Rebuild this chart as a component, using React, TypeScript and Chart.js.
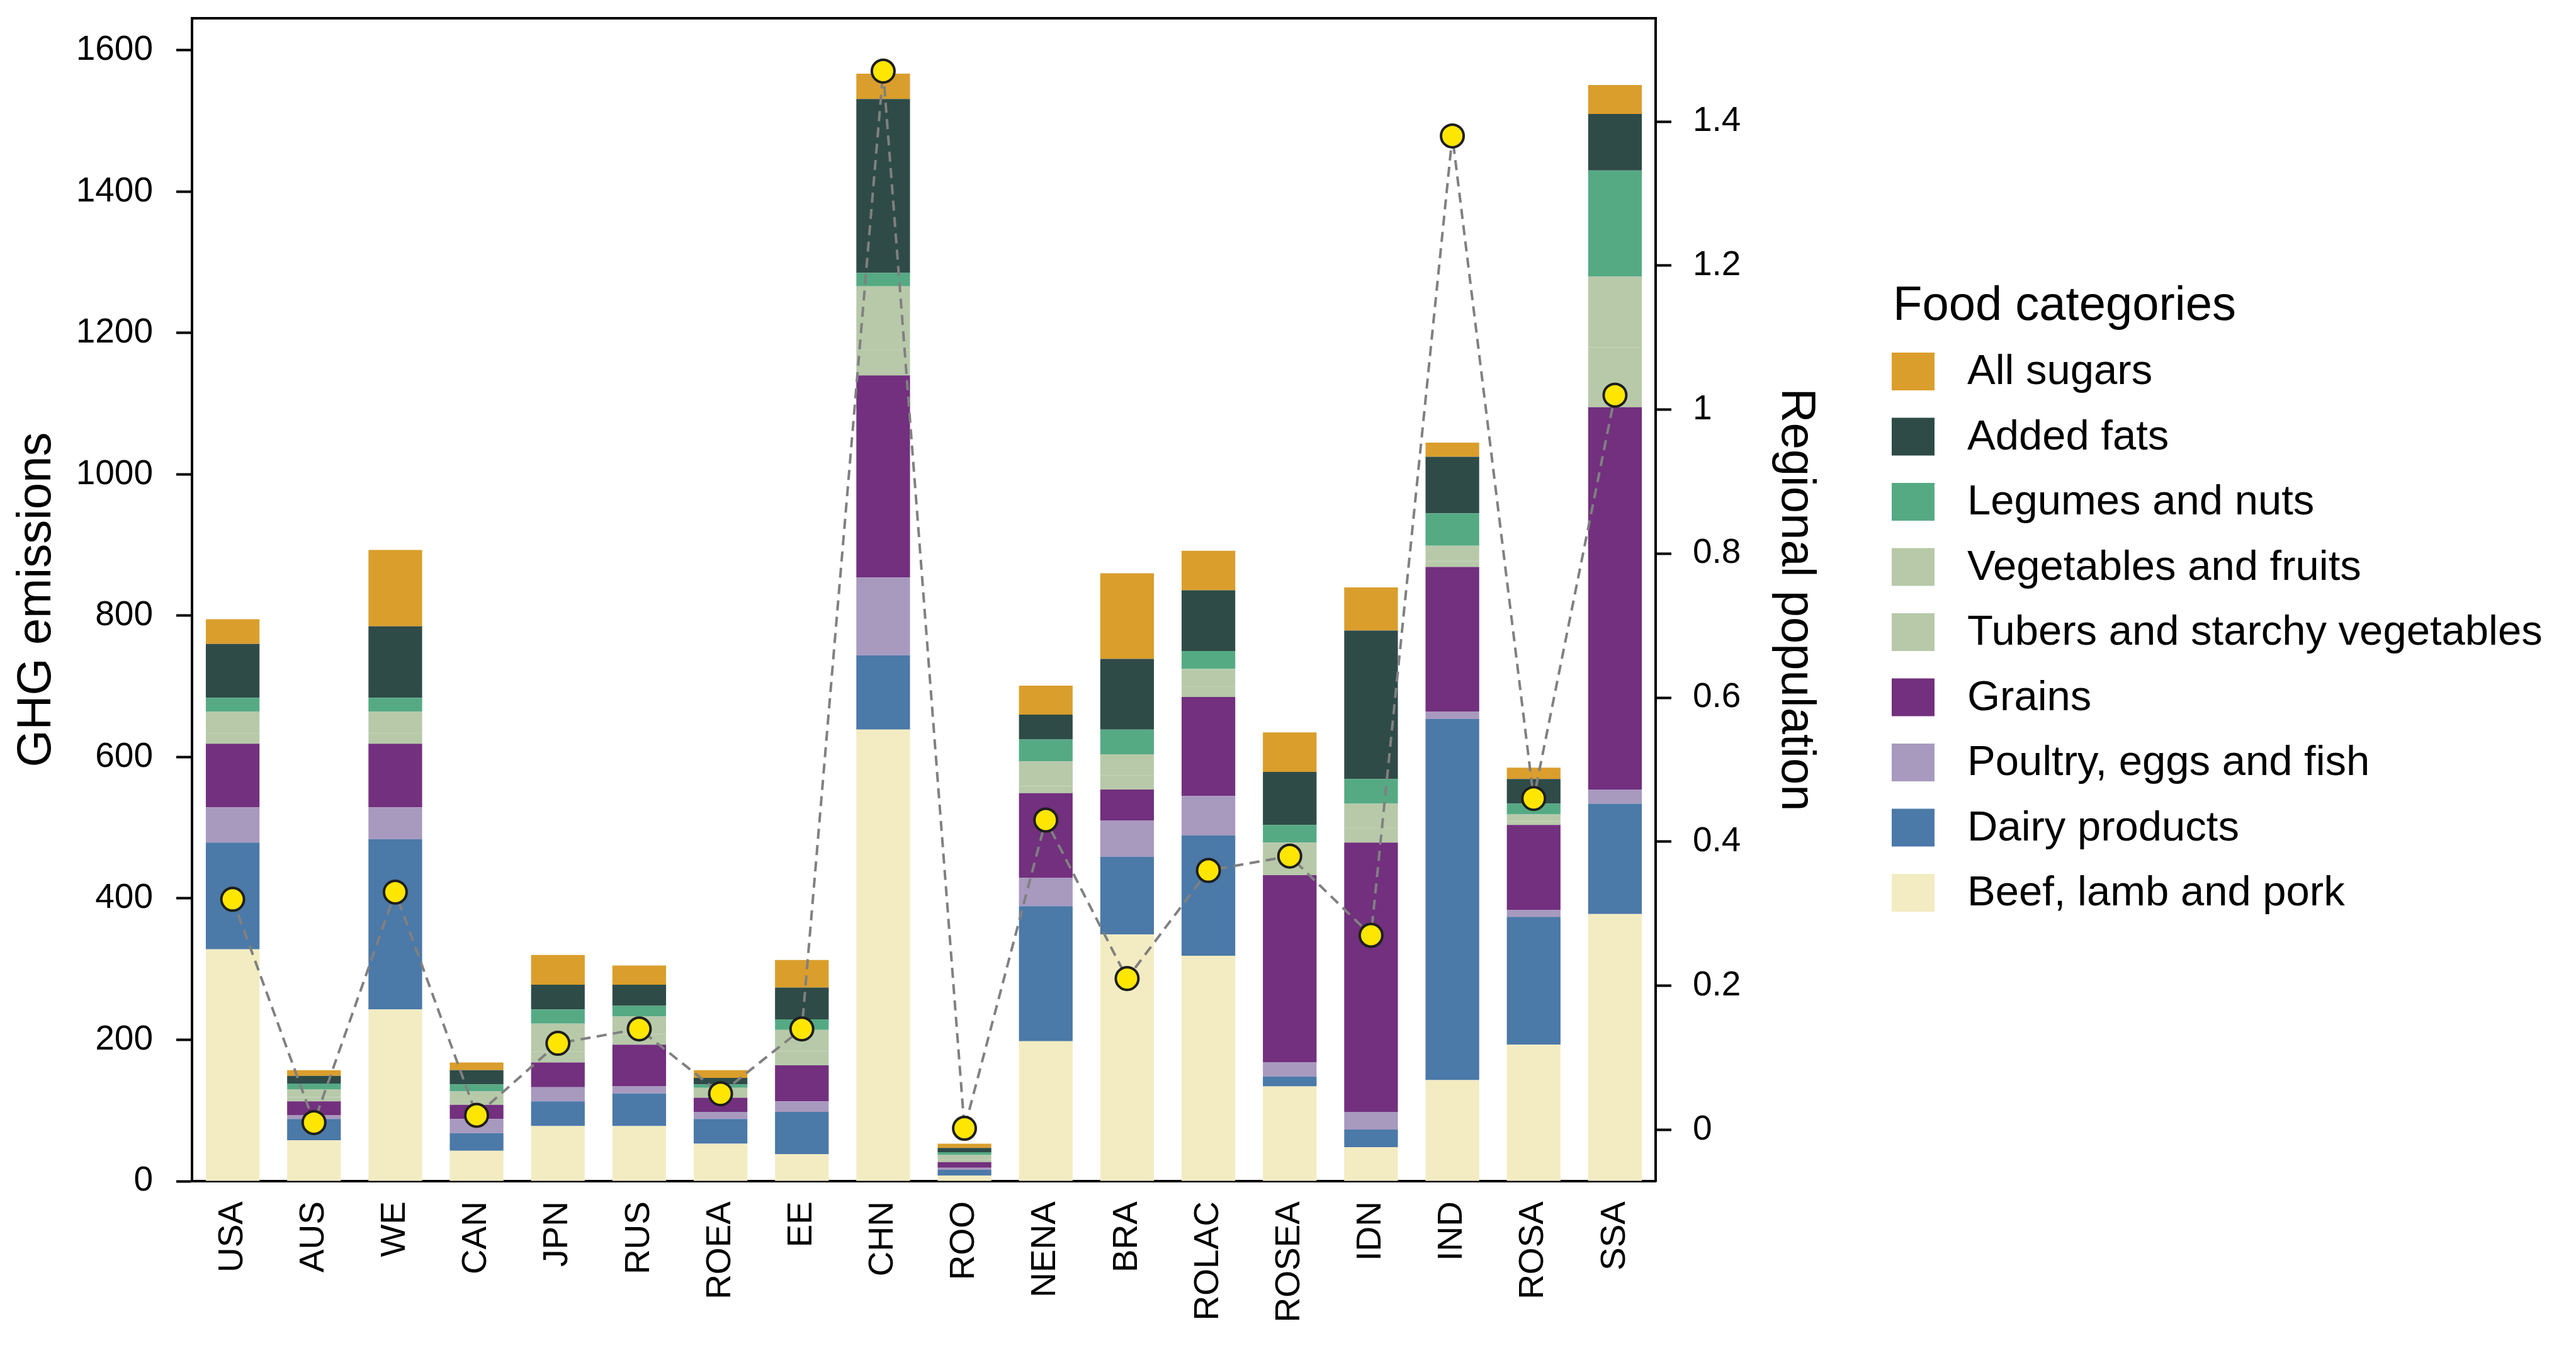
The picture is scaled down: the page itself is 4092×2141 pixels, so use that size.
import React, { useEffect, useRef } from "react";
import { Chart, registerables } from "chart.js";

Chart.register(...registerables);

const FONT = "'Liberation Sans', Arial, Helvetica, sans-serif";

const regions = ["USA", "AUS", "WE", "CAN", "JPN", "RUS", "ROEA", "EE", "CHN", "ROO", "NENA", "BRA", "ROLAC", "ROSEA", "IDN", "IND", "ROSA", "SSA"];

// GHG emissions by food category (stack order bottom -> top)
const beef = [328, 58, 243, 43, 78, 78, 53, 38, 639, 8, 198, 349, 319, 134, 48, 143, 193, 378];
const dairy = [151, 30, 241, 25, 35, 46, 35, 60, 105, 8, 191, 110, 170, 14, 25, 511, 181, 156];
const poultry = [50, 5, 45, 20, 20, 10, 10, 15, 110, 3, 40, 51, 56, 20, 25, 10, 10, 20];
const grains = [90, 20, 90, 20, 35, 59, 20, 51, 286, 8, 120, 44, 140, 265, 381, 205, 120, 541];
const tubers = [15, 6, 15, 7, 15, 15, 5, 20, 36, 4, 10, 20, 15, 16, 20, 8, 5, 85];
const vegetables = [30, 11, 30, 12, 40, 25, 9, 30, 90, 6, 35, 30, 25, 30, 35, 22, 10, 100];
const legumes = [20, 8, 20, 10, 20, 15, 5, 15, 19, 4, 31, 35, 25, 25, 35, 46, 15, 150];
const fats = [76, 11, 101, 20, 35, 30, 9, 45, 246, 6, 35, 100, 86, 75, 210, 80, 35, 80];
const sugars = [35, 8, 108, 11, 42, 27, 11, 39, 36, 6, 41, 121, 56, 56, 61, 20, 16, 41];

// Regional population (right axis)
const population = [0.32, 0.01, 0.33, 0.02, 0.12, 0.14, 0.05, 0.14, 1.47, 0.002, 0.43, 0.21, 0.36, 0.38, 0.27, 1.38, 0.46, 1.02];

const leftTicks = [0, 200, 400, 600, 800, 1000, 1200, 1400, 1600];
const rightTicks = [0, 0.2, 0.4, 0.6, 0.8, 1, 1.2, 1.4];

const categoryLabels = [
  "Beef, lamb and pork",
  "Dairy products",
  "Poultry, eggs and fish",
  "Grains",
  "Tubers and starchy vegetables",
  "Vegetables and fruits",
  "Legumes and nuts",
  "Added fats",
  "All sugars",
];
const categoryColors = ["#F3ECC2", "#4B79A8", "#A899BF", "#72307E", "#B7C9A9", "#B7C9A9", "#55AA84", "#2F4B48", "#DA9E2C"];
const categoryData = [beef, dairy, poultry, grains, tubers, vegetables, legumes, fats, sugars];

const W = 4092;
const H = 2141;

const customLegend = {
  id: "customLegend",
  afterDraw(chart: any) {
    const ctx = chart.ctx;
    const { left, right, top } = chart.chartArea;
    ctx.save();
    // top spine
    ctx.strokeStyle = "#000";
    ctx.lineWidth = 4;
    ctx.beginPath();
    ctx.moveTo(left - 2, top);
    ctx.lineTo(right + 2, top);
    ctx.stroke();

    const x0 = right + 375;
    ctx.fillStyle = "#000";
    ctx.textAlign = "left";
    ctx.textBaseline = "alphabetic";
    ctx.font = `76px ${FONT}`;
    ctx.fillText("Food categories", x0 + 2, 508);
    const items = categoryLabels.map((l, i) => ({ label: l, color: categoryColors[i] })).reverse();
    items.forEach((it, i) => {
      const y = 560 + i * 103.5;
      ctx.fillStyle = it.color;
      ctx.fillRect(x0, y, 68, 60);
      ctx.fillStyle = "#000";
      ctx.font = `67px ${FONT}`;
      ctx.textBaseline = "middle";
      ctx.fillText(it.label, x0 + 120, y + 32);
    });
    ctx.restore();
  },
};

export default function App() {
  const ref = useRef<HTMLCanvasElement>(null);

  useEffect(() => {
    document.body.style.margin = "0";
    document.body.style.overflow = "hidden";
    const canvas = ref.current!;
    const total = regions.map((_, i) => categoryData.reduce((s, arr) => s + arr[i], 0));
    const yMax = Math.max(...total) * 1.05;
    const pMin = Math.min(...population);
    const pMax = Math.max(...population);
    const pm = (pMax - pMin) * 0.05;

    const datasets: any[] = [
      {
        type: "line",
        label: "Regional population",
        data: population,
        yAxisID: "y1",
        borderColor: "#808080",
        borderWidth: 4,
        borderDash: [16, 10],
        pointRadius: 18,
        pointHoverRadius: 18,
        pointBackgroundColor: "#FFE600",
        pointBorderColor: "#1E1E1E",
        pointBorderWidth: 4,
        tension: 0,
        fill: false,
        order: 0,
      },
      ...categoryData.map((d, i) => ({
        type: "bar",
        label: categoryLabels[i],
        data: d,
        backgroundColor: categoryColors[i],
        borderWidth: 0,
        yAxisID: "y",
        stack: "s",
        barPercentage: 0.66,
        categoryPercentage: 1,
        order: 1,
      })),
    ];

    const tickFont = { family: FONT, size: 55 };
    const titleFont = { family: FONT, size: 76, lineHeight: 1 };

    const chart = new Chart(canvas, {
      type: "bar",
      data: { labels: regions, datasets },
      plugins: [customLegend],
      options: {
        responsive: false,
        animation: false,
        devicePixelRatio: 1,
        layout: { padding: { left: 0, top: 29, right: W - 2900, bottom: 0 } },
        plugins: {
          legend: { display: false },
          tooltip: { enabled: false },
        },
        scales: {
          x: {
            stacked: true,
            offset: true,
            grid: { display: false, drawTicks: false },
            border: { display: true, color: "#000", width: 4 },
            ticks: {
              font: tickFont,
              color: "#000",
              minRotation: 90,
              maxRotation: 90,
              autoSkip: false,
              padding: 32,
            },
            afterFit: (s: any) => {
              s.height = 265;
              s.paddingLeft = 0;
              s.paddingRight = 0;
            },
          },
          y: {
            stacked: true,
            position: "left",
            min: 0,
            max: yMax,
            grid: { drawOnChartArea: false, drawTicks: true, tickLength: 25, tickWidth: 4, tickColor: "#000" },
            border: { display: true, color: "#000", width: 4 },
            afterBuildTicks: (s: any) => {
              s.ticks = leftTicks.map((v) => ({ value: v }));
            },
            ticks: {
              font: tickFont,
              color: "#000",
              padding: 37,
              callback: (v: any) => String(v),
            },
            title: { display: true, text: "GHG emissions", font: titleFont, color: "#000", padding: { top: 21, bottom: 0 } },
            afterFit: (s: any) => {
              s.width = 305;
              s.paddingTop = 0;
              s.paddingBottom = 0;
            },
          },
          y1: {
            position: "right",
            min: pMin - pm,
            max: pMax + pm,
            grid: { drawOnChartArea: false, drawTicks: true, tickLength: 25, tickWidth: 4, tickColor: "#000" },
            border: { display: true, color: "#000", width: 4 },
            afterBuildTicks: (s: any) => {
              s.ticks = rightTicks.map((v) => ({ value: v }));
            },
            ticks: {
              font: tickFont,
              color: "#000",
              padding: 34,
              callback: (v: any) => String(Math.round(v * 10) / 10),
            },
            title: { display: true, text: "Regional population", font: titleFont, color: "#000", padding: { top: 10, bottom: 0 } },
            afterFit: (s: any) => {
              s.width = 270;
              s.paddingTop = 0;
              s.paddingBottom = 0;
            },
          },
        },
      } as any,
    });
    return () => chart.destroy();
  }, []);

  return (
    <div style={{ position: "absolute", left: 0, top: 0, width: W, height: H, background: "#fff" }}>
      <canvas ref={ref} width={W} height={H} style={{ width: W, height: H, display: "block" }} />
    </div>
  );
}
